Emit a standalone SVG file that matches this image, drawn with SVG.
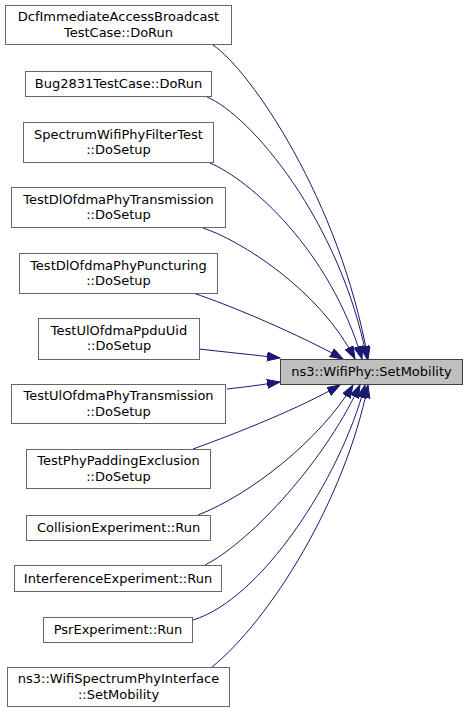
<svg xmlns="http://www.w3.org/2000/svg" width="469" height="713" viewBox="0 0 469 713">
<style>
.n rect{fill:#ffffff;stroke:#666666;stroke-width:1}
.m rect{fill:#bfbfbf;stroke:#404040;stroke-width:1}
text{font-family:"DejaVu Sans","Liberation Sans",sans-serif;font-size:13px;fill:#000000;text-anchor:middle}
.e path{fill:none;stroke:#191970;stroke-width:1;marker-end:url(#ah)}
</style>
<defs>
<marker id="ah" markerUnits="userSpaceOnUse" markerWidth="14" markerHeight="10" refX="13" refY="4.5" orient="auto">
<path d="M0,0 L13,4.5 L0,9 z" fill="#191970" stroke="#191970" stroke-width="1"/>
</marker>
</defs>
<rect width="469" height="713" fill="#ffffff"/>
<g id="edges" class="e">
<path d="M213,45 C250,70 340,200 368,359"/>
<path d="M207,97 C250,115 340,220 367,359"/>
<path d="M210,163 C250,180 330,250 362,359"/>
<path d="M203,228 C240,240 320,290 355,359"/>
<path d="M193,293 C230,305 300,335 343,359"/>
<path d="M199,349 C225,352 255,355 280,358"/>
<path d="M227,389 C245,387 260,385 280,382"/>
<path d="M193,449 C240,432 300,408 340,385"/>
<path d="M198,515 C250,495 320,440 353,385"/>
<path d="M205,565 C245,545 320,470 360,385"/>
<path d="M193,620 C260,600 340,480 365,385"/>
<path d="M212,667 C270,620 345,500 368,385"/>
</g>
<g id="main" class="m">
<rect x="280.5" y="359.5" width="182" height="25"/>
<text x="371.5" y="376">ns3::WifiPhy::SetMobility</text>
</g>
<g id="n1" class="n">
<rect x="5.5" y="5.5" width="226" height="39"/>
<text x="118.5" y="21">DcfImmediateAccessBroadcast</text>
<text x="118.5" y="36.5">TestCase::DoRun</text>
</g>
<g id="n2" class="n">
<rect x="25.5" y="71.5" width="186" height="25"/>
<text x="118.5" y="88">Bug2831TestCase::DoRun</text>
</g>
<g id="n3" class="n">
<rect x="23.5" y="122.5" width="190" height="40"/>
<text x="118.5" y="139">SpectrumWifiPhyFilterTest</text>
<text x="118.5" y="154">::DoSetup</text>
</g>
<g id="n4" class="n">
<rect x="11.5" y="187.5" width="214" height="40"/>
<text x="118.5" y="204">TestDlOfdmaPhyTransmission</text>
<text x="118.5" y="219">::DoSetup</text>
</g>
<g id="n5" class="n">
<rect x="19.5" y="253.5" width="198" height="40"/>
<text x="118.5" y="270">TestDlOfdmaPhyPuncturing</text>
<text x="118.5" y="285">::DoSetup</text>
</g>
<g id="n6" class="n">
<rect x="38.5" y="318.5" width="161" height="41"/>
<text x="119" y="335">TestUlOfdmaPpduUid</text>
<text x="119" y="350">::DoSetup</text>
</g>
<g id="n7" class="n">
<rect x="11.5" y="384.5" width="214" height="39"/>
<text x="118.5" y="400">TestUlOfdmaPhyTransmission</text>
<text x="118.5" y="415.5">::DoSetup</text>
</g>
<g id="n8" class="n">
<rect x="26.5" y="449.5" width="184" height="39"/>
<text x="118.5" y="465">TestPhyPaddingExclusion</text>
<text x="118.5" y="480.5">::DoSetup</text>
</g>
<g id="n9" class="n">
<rect x="26.5" y="515.5" width="184" height="25"/>
<text x="118.5" y="532">CollisionExperiment::Run</text>
</g>
<g id="n10" class="n">
<rect x="14.5" y="565.5" width="207" height="26"/>
<text x="118" y="582.5">InterferenceExperiment::Run</text>
</g>
<g id="n11" class="n">
<rect x="43.5" y="617.5" width="149" height="25"/>
<text x="118" y="634">PsrExperiment::Run</text>
</g>
<g id="n12" class="n">
<rect x="7.5" y="667.5" width="222" height="39"/>
<text x="118.5" y="683">ns3::WifiSpectrumPhyInterface</text>
<text x="118.5" y="698.5">::SetMobility</text>
</g>
</svg>
